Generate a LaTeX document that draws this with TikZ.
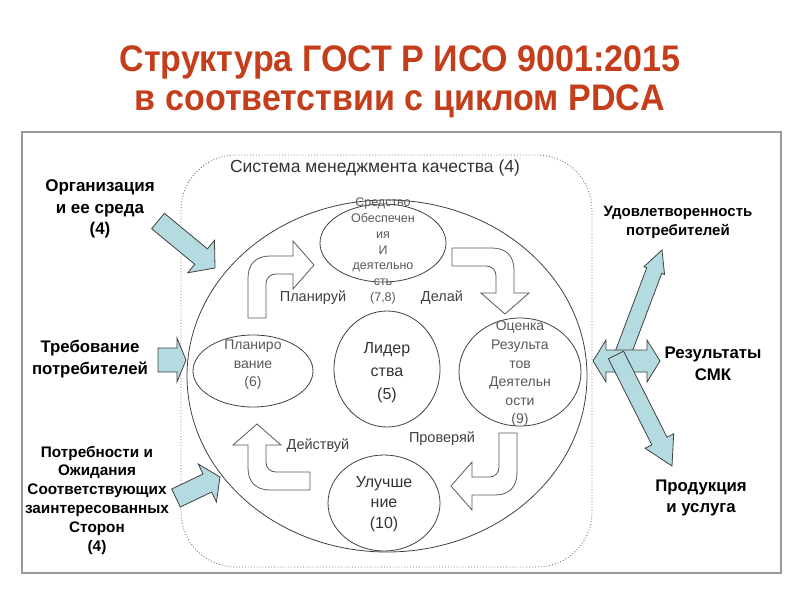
\documentclass[tikz,border=0pt]{standalone}
\usepackage{fontspec}
\setmainfont{Liberation Sans}
\usetikzlibrary{calc,shapes.geometric}

\definecolor{titlered}{RGB}{196,62,28}
\definecolor{inblue}{RGB}{180,219,224}

\begin{document}
\begin{tikzpicture}[x=1pt, y=-1pt,
        stage/.style={draw=black!75, ellipse, inner sep=0pt, line width=0.8pt},
        stagetext/.style={text=black!65, align=center},
        steplabel/.style={text=black!75, font=\fontsize{14.5}{17}\selectfont},
        sidelabel/.style={align=center, font=\bfseries\fontsize{17}{21.5}\selectfont},
        pdca/.style={draw=black!65, fill=white, line width=0.8pt},
        inflow/.style={draw=black!75, fill=inblue, line width=0.8pt, line join=miter}]
        \useasboundingbox (0,0) rectangle (800,600);

        % --- 1. Parameters ---
        \def\bentarrow#1{\draw[pdca,#1] (0,0) -- (0,-40) .. controls (0,-54) and (8,-62) .. (22,-62)
            -- (45,-62) -- (45,-77) -- (66,-53) -- (45,-29) -- (45,-44) -- (28,-44)
            .. controls (22,-44) and (18,-40) .. (18,-34) -- (18,0) -- cycle;}
        \def\blockarrow#1#2#3#4#5{% tail, tip, shaft half width, head half width, head length
            \coordinate (#1b) at ($(#2)!#5!(#1)$);
            \draw[inflow] ($(#1)!#3!90:(#2)$) -- ($(#1b)!#3!90:(#2)$) -- ($(#1b)!#4!90:(#2)$) -- (#2)
            -- ($(#1b)!#4!-90:(#2)$) -- ($(#1b)!#3!-90:(#2)$) -- ($(#1)!#3!-90:(#2)$) -- cycle;}

        % Title
        \node[text=titlered, align=center, font=\bfseries\fontsize{37}{39}\selectfont] (title) at (400,82)
            {\scalebox{0.92}[1]{Структура ГОСТ Р ИСО 9001:2015}\\\scalebox{0.92}[1]{в соответствии с циклом PDCA}};

        % --- 2. Frames ---
        \draw[black!40, line width=1.5pt] (22,132) rectangle (781,573);
        \draw[black!55, dotted, line width=0.9pt, rounded corners=55pt] (181,155) rectangle (592,567);
        \node[text=black!80, font=\fontsize{17.5}{19}\selectfont] (qms) at (375,168) {Система менеджмента качества (4)};

        % --- 3. PDCA circle ---
        \node[stage, minimum width=400, minimum height=352] (pdca) at (387,376) {};

        \node[stage, minimum width=126, minimum height=78] (support) at (383,243) {};
        \node[stagetext, font=\fontsize{12.5}{15.8}\selectfont] (supporttext) at (383,251)
            {Средство\\Обеспечен\\ия\\И\\деятельно\\сть\\(7,8)};
        \node[stage, minimum width=120, minimum height=72] (plan) at (253,371) {};
        \node[stagetext, font=\fontsize{14}{18.5}\selectfont] (plantext) at (253,365) {Планиро\\вание\\(6)};
        \node[stage, minimum width=106, minimum height=116] (lead) at (387,369) {};
        \node[stagetext, text=black!80, font=\fontsize{16}{23}\selectfont] (leadtext) at (387,373) {Лидер\\ства\\(5)};
        \node[stage, minimum width=122, minimum height=108] (eval) at (520,372) {};
        \node[stagetext, font=\fontsize{14}{18.6}\selectfont] (evaltext) at (520,374)
            {Оценка\\Результа\\тов\\Деятельн\\ости\\(9)};
        \node[stage, minimum width=112, minimum height=96] (impr) at (384,503) {};
        \node[stagetext, text=black!80, font=\fontsize{16}{20.5}\selectfont] (imprtext) at (384,504) {Улучше\\ние\\(10)};

        % Cycle arrows
        \bentarrow{shift={(248,318)}}
        \bentarrow{shift={(452,248)}, x={(0pt,-1pt)}, y={(-1pt,0pt)}}
        \bentarrow{shift={(517,433)}, x={(-1pt,0pt)}, y={(0pt,1pt)}}
        \bentarrow{shift={(310,490)}, x={(0pt,1pt)}, y={(1pt,0pt)}}

        \node[steplabel] (plantag) at (313,298) {Планируй};
        \node[steplabel] (dotag) at (442,298) {Делай};
        \node[steplabel] (checktag) at (442,439) {Проверяй};
        \node[steplabel] (acttag) at (318,446) {Действуй};

        % --- 4. Inputs ---
        \node[sidelabel] (context) at (100,209) {Организация\\и ее среда\\(4)};
        \node[sidelabel, font=\bfseries\fontsize{16.8}{22}\selectfont] (needs) at (90,359) {Требование\\потребителей};
        \node[sidelabel, font=\bfseries\fontsize{15.3}{18.8}\selectfont] (parties) at (97,500)
            {Потребности и\\Ожидания\\Соответствующих\\заинтересованных\\Сторон\\(4)};

        \coordinate (contextT) at (158,221);  \coordinate (contextP) at (215,268);
        \coordinate (needsT) at (158,360);    \coordinate (needsP) at (186,360);
        \coordinate (partiesT) at (176,498);  \coordinate (partiesP) at (220,477);
        \blockarrow{contextT}{contextP}{10pt}{21pt}{18pt}
        \blockarrow{needsT}{needsP}{12pt}{22pt}{9pt}
        \blockarrow{partiesT}{partiesP}{10pt}{21pt}{14pt}

        % --- 5. Outputs ---
        \node[sidelabel, font=\bfseries\fontsize{15}{19}\selectfont] (satisf) at (678,222) {Удовлетворенность\\потребителей};
        \node[sidelabel, font=\bfseries\fontsize{16.8}{22}\selectfont] (results) at (713,364) {Результаты\\СМК};
        \node[sidelabel, font=\bfseries\fontsize{16.8}{21}\selectfont] (product) at (701,498) {Продукция\\и услуга};

        \coordinate (satisfT) at (622,356);   \coordinate (satisfP) at (662,250);
        \coordinate (resultsL) at (593,361);  \coordinate (resultsR) at (660,361);
        \coordinate (productT) at (616,355);  \coordinate (productP) at (672,466);
        \blockarrow{satisfT}{satisfP}{8pt}{11pt}{22pt}
        \draw[inflow] (resultsL) -- ++(13,-21) -- ++(0,10) -- ++(41,0) -- ++(0,-10) -- (resultsR)
            -- ++(-13,21) -- ++(0,-10) -- ++(-41,0) -- ++(0,10) -- cycle;
        \blockarrow{productT}{productP}{8.5pt}{16pt}{28pt}
    \end{tikzpicture}
\end{document}
